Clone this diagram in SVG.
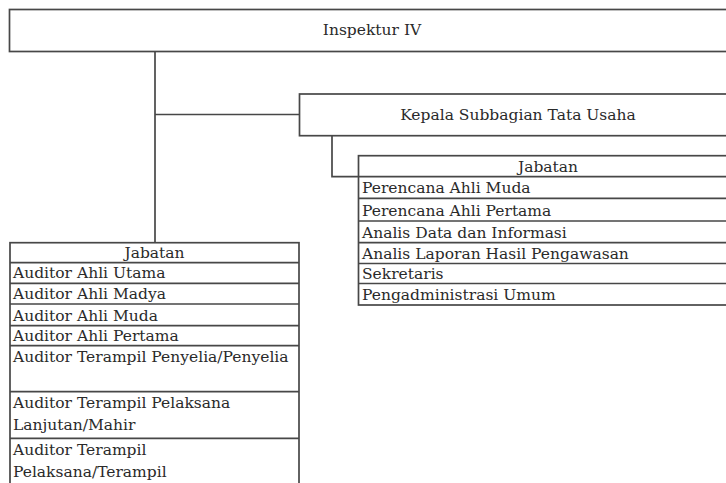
<svg xmlns="http://www.w3.org/2000/svg" width="726" height="483" viewBox="0 0 726 483">
<style>
.box{fill:#fff;stroke:#474747;stroke-width:1.7}
.ln{fill:none;stroke:#474747;stroke-width:1.7}
.t{font-family:"DejaVu Serif",serif;font-size:15.5px;fill:#2a2a2a}
.c{text-anchor:middle}
</style>
<rect width="726" height="483" fill="#fff"/>
<g id="connectors">
<path class="ln" d="M155,51.5 V242.7"/>
<path class="ln" d="M155,114.5 H299.5"/>
<path class="ln" d="M332,135.7 V176.7 H358"/>
</g>
<g id="inspektur">
<rect class="box" x="9.5" y="9.5" width="740" height="42"/>
<text class="t c" x="372" y="35">Inspektur IV</text>
</g>
<g id="kepala">
<rect class="box" x="299.5" y="94" width="450" height="41.7"/>
<text class="t c" x="518" y="120">Kepala Subbagian Tata Usaha</text>
</g>
<g id="jabatan-tu">
<rect class="box" x="358.5" y="155.7" width="380" height="149.3"/>
<path class="ln" d="M358.5,176.7 H740 M358.5,198.3 H740 M358.5,221 H740 M358.5,242.7 H740 M358.5,263.5 H740 M358.5,283.5 H740"/>
<text class="t c" x="548" y="171.7">Jabatan</text>
<text class="t" x="362" y="193.3">Perencana Ahli Muda</text>
<text class="t" x="362" y="216">Perencana Ahli Pertama</text>
<text class="t" x="362" y="237.7">Analis Data dan Informasi</text>
<text class="t" x="362" y="258.5">Analis Laporan Hasil Pengawasan</text>
<text class="t" x="362" y="278.5">Sekretaris</text>
<text class="t" x="362" y="300">Pengadministrasi Umum</text>
</g>
<g id="jabatan-auditor">
<rect class="box" x="10" y="242.7" width="289" height="260"/>
<path class="ln" d="M10,262.7 H299 M10,283.3 H299 M10,304 H299 M10,325.7 H299 M10,345.7 H299 M10,391.7 H299 M10,438.3 H299"/>
<text class="t c" x="154.5" y="257.5">Jabatan</text>
<text class="t" x="13" y="278.3">Auditor Ahli Utama</text>
<text class="t" x="13" y="299.3">Auditor Ahli Madya</text>
<text class="t" x="13" y="320.5">Auditor Ahli Muda</text>
<text class="t" x="13" y="341">Auditor Ahli Pertama</text>
<text class="t" x="13" y="362">Auditor Terampil Penyelia/Penyelia</text>
<text class="t" x="13" y="408">Auditor Terampil Pelaksana</text>
<text class="t" x="13" y="430">Lanjutan/Mahir</text>
<text class="t" x="13" y="455">Auditor Terampil</text>
<text class="t" x="13" y="476.5">Pelaksana/Terampil</text>
</g>
</svg>
